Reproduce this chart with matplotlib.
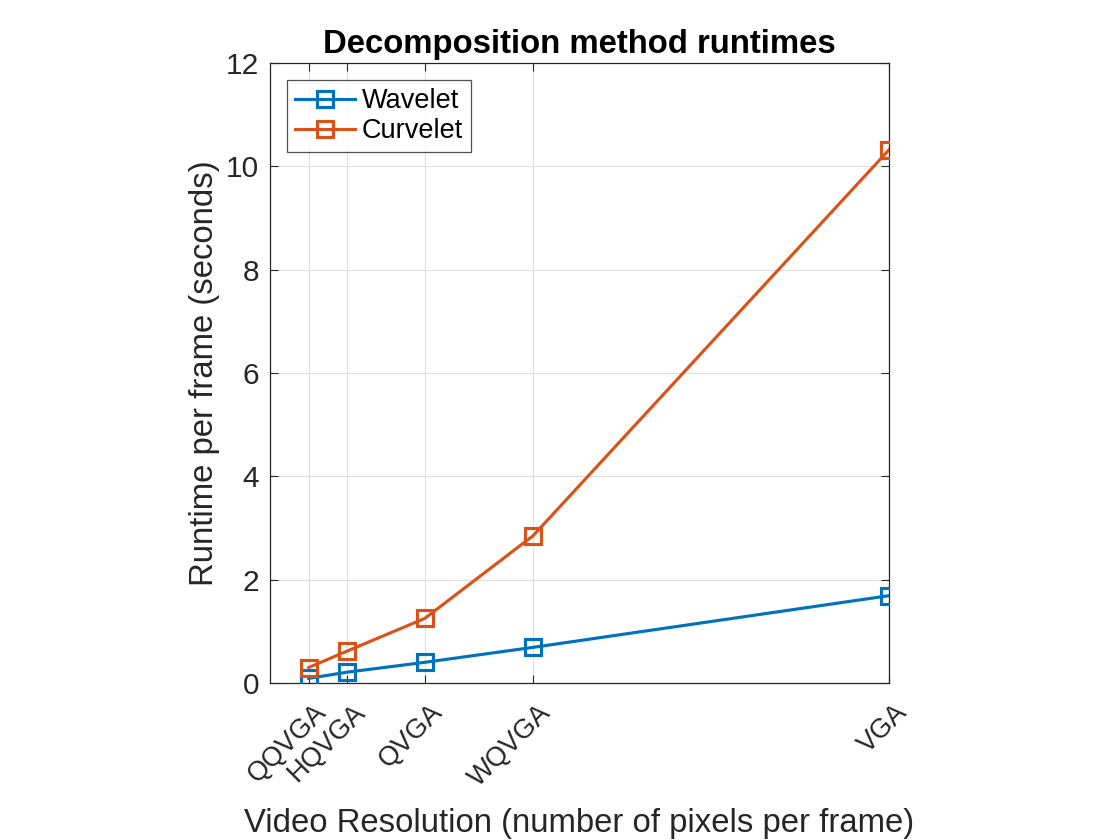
import matplotlib
matplotlib.use("Agg")
import matplotlib.pyplot as plt
from matplotlib.transforms import ScaledTranslation

# Data
resolutions = ["QQVGA", "HQVGA", "QVGA", "WQVGA", "VGA"]
pixels = [19200, 38400, 76800, 130560, 307200]
wavelet = [0.09, 0.21, 0.40, 0.69, 1.69]
curvelet = [0.30, 0.62, 1.25, 2.85, 10.32]
y_ticks = [0, 2, 4, 6, 8, 10, 12]

plt.rcParams['font.family'] = ['Liberation Sans', 'DejaVu Sans']
TXT = '#262626'
BLUE = '#0072BD'
ORANGE = '#D95319'

fig = plt.figure(figsize=(11.2, 8.4), dpi=100)
W, H = 1120, 840
left, right, top, bottom = 270, 889, 63, 683
ax = fig.add_axes([left / W, (H - bottom) / H, (right - left) / W, (bottom - top) / H])

lw = 2.25
ax.plot(pixels, wavelet, '-s', color=BLUE, lw=lw, markersize=11,
        markerfacecolor='none', markeredgewidth=lw, label='Wavelet', zorder=3)
ax.plot(pixels, curvelet, '-s', color=ORANGE, lw=lw, markersize=11,
        markerfacecolor='none', markeredgewidth=lw, label='Curvelet', zorder=3)

ax.set_xlim(0, 307200)
ax.set_ylim(0, 12)
ax.set_yticks(y_ticks)
ax.set_xticks(pixels)
ax.set_xticklabels([''] * len(pixels))

# rotated tick labels, anchored at their right end
off = ScaledTranslation(0.14, -0.255, fig.dpi_scale_trans)
for xv, name in zip(pixels, resolutions):
    ax.text(xv, 0, name, transform=ax.get_xaxis_transform() + off,
            rotation=45, ha='right', va='center', rotation_mode='anchor',
            fontsize=19.5, color=TXT, clip_on=False)

ax.grid(True, color='#dfdfdf', lw=0.8)
ax.set_axisbelow(True)
ax.tick_params(direction='in', length=6, width=0.8, colors=TXT, labelsize=21.5,
               top=True, right=True, pad=8)
for s in ax.spines.values():
    s.set_color(TXT)
    s.set_linewidth(0.9)

ax.set_xlabel('Video Resolution (number of pixels per frame)', fontsize=23.7, color=TXT)
ax.xaxis.set_label_coords(0.5, -(832 - bottom) / (bottom - top))
ax.xaxis.label.set_va('baseline')
ax.set_ylabel('Runtime per frame (seconds)', fontsize=23.7, color=TXT)
ax.yaxis.set_label_coords(-(left - 213) / (right - left), 0.5)
ax.yaxis.label.set_va('baseline')
ax.set_title('Decomposition method runtimes', fontsize=23.7, fontweight='bold', color='black', pad=7)

leg = ax.legend(loc='upper left', fontsize=19.5, frameon=True, fancybox=False,
                edgecolor=TXT, borderpad=0.3, handlelength=2.2, handletextpad=0.26,
                labelspacing=0.15, borderaxespad=0.63)
leg.get_frame().set_linewidth(0.9)
for t in leg.get_texts():
    t.set_color('black')

fig.savefig('out.png', dpi=100, facecolor='white')
